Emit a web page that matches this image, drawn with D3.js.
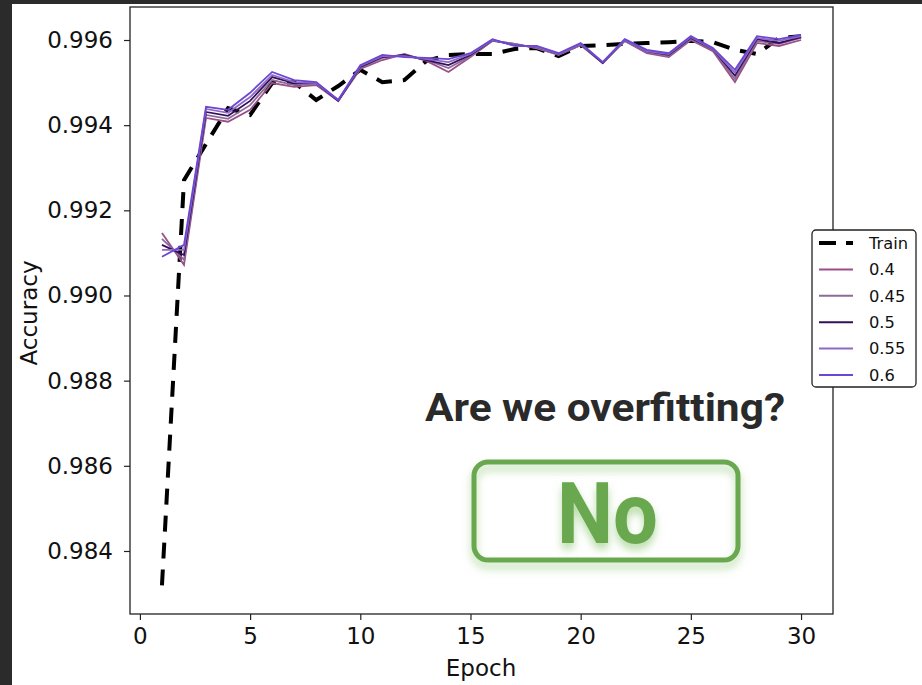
<!DOCTYPE html>
<html><head><meta charset="utf-8">
<script src="https://cdn.jsdelivr.net/npm/d3@7/dist/d3.min.js"></script>
<style>body{margin:0;background:#2b2b2b;overflow:hidden} svg{display:block}</style>
</head><body><svg id="c" width="922" height="685"></svg>
<script>
const epochs = [1,2,3,4,5,6,7,8,9,10,11,12,13,14,15,16,17,18,19,20,21,22,23,24,25,26,27,28,29,30];
const train = [0.98319,0.99271,0.99356,0.99440,0.99424,0.99499,0.99501,0.99459,0.99492,0.99530,
  0.99501,0.99506,0.99551,0.99565,0.99567,0.99567,0.99579,0.99581,0.99562,0.99586,
  0.99588,0.99591,0.99593,0.99595,0.99598,0.99595,0.99577,0.99567,0.99605,0.99609];
const v040 = [0.99147,0.99072,0.99417,0.99408,0.99436,0.99499,0.99490,0.99494,0.99457,0.99532,
  0.99553,0.99567,0.99551,0.99525,0.99560,0.99598,0.99591,0.99581,0.99565,0.99588,
  0.99546,0.99598,0.99569,0.99560,0.99600,0.99574,0.99501,0.99593,0.99586,0.99600];
const v045 = [0.99133,0.99084,0.99424,0.99415,0.99447,0.99506,0.99494,0.99497,0.99459,0.99534,
  0.99558,0.99565,0.99553,0.99534,0.99562,0.99598,0.99591,0.99581,0.99565,0.99588,
  0.99546,0.99598,0.99572,0.99562,0.99602,0.99577,0.99508,0.99598,0.99591,0.99605];
const v050 = [0.99119,0.99095,0.99431,0.99422,0.99457,0.99513,0.99499,0.99499,0.99457,0.99537,
  0.99560,0.99565,0.99553,0.99541,0.99565,0.99600,0.99588,0.99584,0.99567,0.99591,
  0.99546,0.99600,0.99574,0.99565,0.99605,0.99579,0.99516,0.99602,0.99593,0.99607];
const v055 = [0.99107,0.99107,0.99438,0.99429,0.99466,0.99518,0.99501,0.99499,0.99459,0.99539,
  0.99562,0.99562,0.99555,0.99548,0.99567,0.99600,0.99588,0.99584,0.99567,0.99591,
  0.99548,0.99600,0.99574,0.99567,0.99607,0.99579,0.99523,0.99605,0.99598,0.99609];
const v060 = [0.99091,0.99119,0.99443,0.99436,0.99476,0.99525,0.99506,0.99501,0.99459,0.99541,
  0.99565,0.99560,0.99558,0.99555,0.99569,0.99602,0.99586,0.99586,0.99569,0.99593,
  0.99548,0.99602,0.99577,0.99569,0.99609,0.99581,0.99530,0.99609,0.99602,0.99612];
const seriesNames = ["0.4","0.45","0.5","0.55","0.6"];
const seriesValues = [v040, v045, v050, v055, v060];
const seriesColors = ["#9a4f8a","#8c6a98","#35105a","#9068c6","#6a48d4"];
const xTicks = [0,5,10,15,20,25,30];
const yTicks = [0.984,0.986,0.988,0.990,0.992,0.994,0.996];

const svg = d3.select("#c");
svg.append("rect").attr("x",12).attr("y",4).attr("width",910).attr("height",681).attr("fill","#fff");

const defs = svg.append("defs");
const f = defs.append("filter").attr("id","glow").attr("x","-20%").attr("y","-30%").attr("width","140%").attr("height","170%");
f.append("feGaussianBlur").attr("in","SourceAlpha").attr("stdDeviation",4).attr("result","b");
f.append("feOffset").attr("in","b").attr("dy",6).attr("result","o");
f.append("feFlood").attr("flood-color","#9fd08a").attr("flood-opacity",0.75).attr("result","c");
f.append("feComposite").attr("in","c").attr("in2","o").attr("operator","in").attr("result","s");
const fm = f.append("feMerge");
fm.append("feMergeNode").attr("in","s");
fm.append("feMergeNode").attr("in","SourceGraphic");

const L=130, R=833, T=7, B=614;
const x = d3.scaleLinear().domain([-0.45,31.45]).range([L,R]);
const y = d3.scaleLinear().domain([0.98252,0.996775]).range([B,T]);

const font = "DejaVu Sans, sans-serif";
const fs = 23;

// axes
const ax = svg.append("g").attr("transform",`translate(0,${B})`)
  .call(d3.axisBottom(x).tickValues(xTicks).tickFormat(d3.format("d")).tickSize(6).tickPadding(8));
const ay = svg.append("g").attr("transform",`translate(${L},0)`)
  .call(d3.axisLeft(y).tickValues(yTicks).tickFormat(d3.format(".3f")).tickSize(6).tickPadding(11));
[ax,ay].forEach(g=>{
  g.select(".domain").remove();
  g.selectAll("line").attr("stroke","#222").attr("stroke-width",1.2);
  g.selectAll("text").attr("font-family",font).attr("font-size",fs).attr("fill","#111");
});

svg.append("text").attr("x",481).attr("y",676).attr("text-anchor","middle")
  .attr("font-family",font).attr("font-size",fs).attr("fill","#111").text("Epoch");
svg.append("text").attr("transform","translate(37,313) rotate(-90)").attr("text-anchor","middle")
  .attr("font-family",font).attr("font-size",fs).attr("fill","#111").text("Accuracy");

const line = vals => d3.line().x((d,i)=>x(epochs[i])).y(d=>y(d))(vals);

svg.append("path").attr("d",line(train)).attr("fill","none").attr("stroke","#000")
  .attr("stroke-width",4).attr("stroke-dasharray","16,11");
seriesValues.forEach((vals,i)=>{
  svg.append("path").attr("d",line(vals)).attr("fill","none").attr("stroke",seriesColors[i])
    .attr("stroke-width",1.8).attr("stroke-linejoin","miter");
});

svg.append("rect").attr("x",L).attr("y",T).attr("width",R-L).attr("height",B-T)
  .attr("fill","none").attr("stroke","#222").attr("stroke-width",1.3);

// legend
const lg = svg.append("g");
lg.append("rect").attr("x",812).attr("y",230).attr("width",104).attr("height",157).attr("rx",4)
  .attr("fill","#fff").attr("stroke","#222").attr("stroke-width",1.3);
const names = ["Train"].concat(seriesNames);
names.forEach((n,i)=>{
  const yy = 243 + i*26.4;
  const ln = lg.append("line").attr("x1",819).attr("x2",853).attr("y1",yy).attr("y2",yy);
  if(i===0) ln.attr("stroke","#000").attr("stroke-width",4).attr("stroke-dasharray","17,10");
  else ln.attr("stroke",seriesColors[i-1]).attr("stroke-width",2);
  lg.append("text").attr("x",869).attr("y",yy).attr("dy","0.36em").attr("font-family",font)
    .attr("font-size",16.3).attr("fill","#111").text(n);
});

// annotation
svg.append("text").attr("x",425).attr("y",421).attr("font-family","Roboto, sans-serif").attr("font-weight",700)
  .attr("font-size",39).attr("fill","#2a2a2a").attr("textLength",360).attr("lengthAdjust","spacingAndGlyphs")
  .text("Are we overfitting?");
const ann = svg.append("g").attr("filter","url(#glow)");
ann.append("rect").attr("x",474).attr("y",462).attr("width",264).attr("height",98).attr("rx",14)
  .attr("fill","none").attr("stroke","#6aa84f").attr("stroke-width",5);
ann.append("text").attr("x",557).attr("y",543).attr("font-family","Roboto, sans-serif").attr("font-weight",700)
  .attr("font-size",86).attr("fill","#6aa84f").attr("textLength",101).attr("lengthAdjust","spacingAndGlyphs").text("No");
</script></body></html>
